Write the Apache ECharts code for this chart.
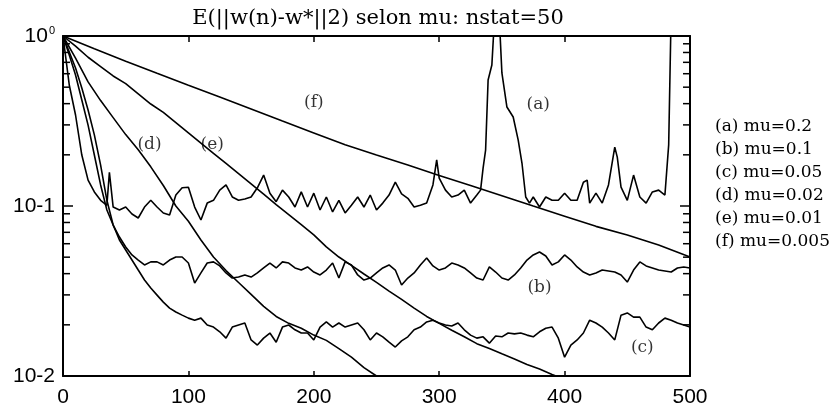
<!DOCTYPE html>
<html><head><meta charset="utf-8">
<script src="https://cdn.jsdelivr.net/npm/echarts@6/dist/echarts.min.js"></script>
<style>html,body{margin:0;padding:0;background:#fff}#c{width:836px;height:410px}</style>
</head><body><div id="c"></div>
<script>
const titleText = 'E(||w(n)-w*||2) selon mu: nstat=50';
const seriesNames = ['(a) mu=0.2', '(b) mu=0.1', '(c) mu=0.05', '(d) mu=0.02', '(e) mu=0.01', '(f) mu=0.005'];

const nGrid = [0,5,10,15,20,25,30,35,40,45,50,55,60,65,70,75,80,85,90,95,100,105,110,115,120,125,130,135,140,145,150,155,160,165,170,175,180,185,190,195,200,205,210,215,220,225,230,235,240,245,250,255,260,265,270,275,280,285,290,295,300,305,310,315,320,325,330,335,340,345,350,355,360,365,370,375,380,385,390,395,400,405,410,415,420,425,430,435,440,445,450,455,460,465,470,475,480,485,490,495,500];

const aN = [0,5,10,15,20,25,30,35,37,40,45,50,55,60,65,70,75,80,85,90,95,100,105,110,115,120,125,130,135,140,145,150,155,160,165,170,175,180,185,190,195,200,205,210,215,220,225,230,235,240,245,250,255,260,265,270,275,280,285,290,295,298,300,305,310,315,320,325,330,333,335,337,339,342,344,346,348,350,354,359,363,366,369,372,375,380,385,390,395,400,405,410,415,418,420,425,430,435,440,442,445,450,455,460,465,470,475,480,483,485,490,495,500];
const aV = [1.0,0.515,0.343,0.1995,0.142,0.121,0.108,0.101,0.158,0.0986,0.0947,0.0986,0.0897,0.085,0.0986,0.108,0.0986,0.091,0.0885,0.116,0.128,0.129,0.0986,0.0827,0.104,0.108,0.124,0.133,0.113,0.108,0.110,0.113,0.128,0.152,0.119,0.106,0.124,0.113,0.0986,0.121,0.0986,0.119,0.0947,0.113,0.0922,0.108,0.091,0.101,0.113,0.0986,0.116,0.0947,0.104,0.116,0.138,0.118,0.111,0.0986,0.101,0.104,0.133,0.187,0.146,0.124,0.113,0.116,0.124,0.104,0.116,0.124,0.167,0.213,0.551,0.675,1.24,1.42,1.24,0.606,0.382,0.334,0.244,0.179,0.113,0.104,0.113,0.0986,0.113,0.108,0.108,0.119,0.108,0.108,0.138,0.142,0.104,0.119,0.104,0.133,0.222,0.194,0.129,0.108,0.152,0.113,0.104,0.121,0.124,0.116,0.229,1.42,1.8,1.9,2.0];

const bV = [1.0,0.773,0.590,0.420,0.299,0.1995,0.133,0.0947,0.0773,0.0657,
0.0574,0.0515,0.0481,0.045,0.0469,0.0469,0.045,0.0481,0.0501,0.0501,
0.0462,0.0352,0.0404,0.0462,0.0469,0.0444,0.0404,0.0377,0.0382,0.0393,
0.0382,0.0404,0.0432,0.0462,0.0432,0.0469,0.0462,0.0432,0.042,0.0438,
0.0409,0.0393,0.042,0.0462,0.0377,0.0469,0.045,0.0393,0.0367,0.0377,
0.0404,0.0432,0.045,0.042,0.0343,0.0377,0.0404,0.045,0.0494,0.0444,
0.042,0.0432,0.0462,0.045,0.0432,0.0404,0.0377,0.0367,0.0438,0.0409,
0.0377,0.0367,0.0393,0.0432,0.0481,0.0515,0.0536,0.0508,0.045,0.0469,
0.0515,0.0481,0.0438,0.0409,0.0393,0.0404,0.042,0.0415,0.0409,0.0393,
0.0357,0.042,0.0469,0.0444,0.0432,0.042,0.0415,0.0409,0.0432,0.0438,
0.0432];

const cV = [1.0,0.805,0.648,0.494,0.367,0.262,0.174,0.108,0.0773,0.0631,
0.0551,0.0481,0.042,0.0367,0.0329,0.0299,0.0272,0.0251,0.0238,0.0228,
0.0219,0.0213,0.0219,0.01995,0.0194,0.0182,0.0167,0.0194,0.01995,0.0205,
0.0163,0.0152,0.0167,0.0179,0.0158,0.0194,0.01995,0.0187,0.0179,0.0179,
0.0163,0.0194,0.0208,0.0194,0.0205,0.0194,0.01995,0.0205,0.0187,0.0163,
0.0179,0.017,0.0158,0.0148,0.0161,0.017,0.0187,0.0194,0.0208,0.0213,
0.0205,0.01995,0.0197,0.0205,0.0187,0.0174,0.0167,0.017,0.0156,0.0172,
0.017,0.0179,0.0177,0.0179,0.0174,0.017,0.0182,0.0191,0.0194,0.0167,
0.0129,0.0152,0.0163,0.0179,0.0213,0.0205,0.0194,0.0179,0.0163,0.0228,
0.0235,0.0222,0.0222,0.0194,0.0187,0.0205,0.0219,0.0213,0.0205,0.01995,
0.0194];

const dN = [0,10,20,30,40,50,60,70,80,90,100,110,120,130,140,150,160,170,180,190,200,210,220,230,240,250,260,270];
const dV = [1.0,0.741,0.537,0.417,0.331,0.263,0.214,0.170,0.132,0.1,0.0813,0.0631,0.0501,0.0417,0.0355,0.0302,0.0257,0.0224,0.0204,0.0191,0.0174,0.0162,0.0145,0.0129,0.0112,0.01,0.00912,0.00832];

const eN = [0,10,20,30,40,50,60,70,80,90,100,110,120,130,140,150,160,170,180,190,200,210,220,230,240,250,260,270,280,290,300,310,320,330,340,350,360,370,380,390,400,410,420];
const eV = [1.0,0.871,0.750,0.661,0.582,0.525,0.457,0.398,0.355,0.309,0.269,0.234,0.204,0.178,0.155,0.135,0.1175,0.102,0.0891,0.0776,0.0676,0.0575,0.0501,0.0447,0.0398,0.0355,0.0316,0.0282,0.0251,0.0224,0.0204,0.0186,0.0170,0.0155,0.0145,0.0135,0.0126,0.0117,0.0110,0.0102,0.00955,0.00891,0.00851];

const fN = [0,25,50,75,100,125,150,175,200,225,250,275,300,325,350,375,400,425,450,475,500];
const fV = [1.0,0.841,0.711,0.603,0.513,0.437,0.372,0.316,0.269,0.229,0.1995,0.174,0.151,0.132,0.115,0.1,0.0871,0.0759,0.0676,0.0589,0.0501];

const curveLabels = ['(a)', '(b)', '(c)', '(d)', '(e)', '(f)'];
const curveLabelN = [379, 380, 462, 69, 119, 200];
const curveLabelV = [0.393, 0.033, 0.0146, 0.229, 0.229, 0.404];

const yTickVals = [1, 0.1, 0.01];
const yTickMain = ['10', '10-1', '10-2'];
const yTickSup = ['0', '', ''];
const yMinorTicks = [0.02,0.03,0.04,0.05,0.06,0.07,0.08,0.09,0.2,0.3,0.4,0.5,0.6,0.7,0.8,0.9];
const xMin = 0, xMax = 500;

const chart = echarts.init(document.getElementById('c'), null, {renderer: 'canvas'});
const pairs = (ns, vs) => ns.map((n, i) => [n, vs[i]]);
const lineStyle = {color: '#000', width: 1.6};
const mk = (name, data) => ({
  name, type: 'line', data, symbol: 'none', showSymbol: false, lineStyle,
  itemStyle: {color: '#000'}, clip: true, silent: true, animation: false
});

const axisLine = {show: true, lineStyle: {color: '#000', width: 2}};
const tickFont = {fontFamily: '"Liberation Sans", Arial, sans-serif', fontSize: 21, color: '#000'};

// minor log ticks on both vertical frame sides; x taken from the grid rect, y from the log scale
const minorTickSeries = (side) => ({
  name: 'minor y ticks ' + side, type: 'custom', silent: true, clip: false, z: 10,
  data: yMinorTicks.map(v => [xMax / 2, v]),
  renderItem: (params, api) => {
    const cs = params.coordSys;
    const y = api.coord([api.value(0), api.value(1)])[1];
    const x0 = side === 'left' ? cs.x : cs.x + cs.width;
    const x1 = side === 'left' ? x0 + 7 : x0 - 7;
    return {type: 'line', shape: {x1: x0, y1: y, x2: x1, y2: y},
            style: {stroke: '#000', lineWidth: 1.5}};
  }
});

const option = {
  animation: false,
  backgroundColor: '#fff',
  grid: {left: 63, right: 146, top: 36, bottom: 34, containLabel: false},
  graphic: [{
    type: 'text', x: 378, y: 19,
    style: {text: titleText, textAlign: 'center', textVerticalAlign: 'middle',
            font: '21px "DejaVu Serif", serif', fill: '#000'}
  }],
  legend: {
    data: seriesNames, orient: 'vertical', left: 704, top: 113,
    itemWidth: 0, itemHeight: 0, itemGap: 6, selectedMode: false,
    textStyle: {fontFamily: '"DejaVu Serif", serif', fontSize: 17, lineHeight: 17, color: '#000'}
  },
  xAxis: [{
    type: 'value', min: xMin, max: xMax, interval: 100, position: 'bottom',
    axisLine, splitLine: {show: false},
    axisTick: {show: true, inside: true, length: 5, lineStyle: {color: '#000', width: 1.5}},
    axisLabel: Object.assign({margin: 11}, tickFont)
  }, {
    type: 'value', min: xMin, max: xMax, interval: 100, position: 'top',
    axisLine, splitLine: {show: false},
    axisTick: {show: true, inside: true, length: 6, lineStyle: {color: '#000', width: 1.5}},
    axisLabel: {show: false}
  }],
  yAxis: [{
    type: 'log', logBase: 10, min: 0.01, max: 1, position: 'left',
    axisLine: {show: true, onZero: false, lineStyle: {color: '#000', width: 2}},
    splitLine: {show: false}, minorTick: {show: false},
    axisTick: {show: true, inside: true, length: 10, lineStyle: {color: '#000', width: 1.5}},
    axisLabel: {
      margin: 8,
      formatter: (v) => {
        const i = yTickVals.findIndex(t => Math.abs(Math.log10(t) - Math.log10(v)) < 1e-6);
        if (i < 0) return '';
        return '{m|' + yTickMain[i] + '}' + (yTickSup[i] ? '{s|' + yTickSup[i] + '}' : '');
      },
      rich: {
        m: tickFont,
        s: {fontFamily: '"Liberation Sans", Arial, sans-serif', fontSize: 11, color: '#000', verticalAlign: 'top', padding: [0, 0, 6, 1]}
      }
    }
  }, {
    type: 'log', logBase: 10, min: 0.01, max: 1, position: 'right',
    axisLine: {show: true, onZero: false, lineStyle: {color: '#000', width: 2}},
    splitLine: {show: false},
    axisTick: {show: true, inside: true, length: 10, lineStyle: {color: '#000', width: 1.5}},
    axisLabel: {show: false}
  }],
  tooltip: {show: false},
  series: [
    mk(seriesNames[0], pairs(aN, aV)),
    mk(seriesNames[1], pairs(nGrid, bV)),
    mk(seriesNames[2], pairs(nGrid, cV)),
    mk(seriesNames[3], pairs(dN, dV)),
    mk(seriesNames[4], pairs(eN, eV)),
    mk(seriesNames[5], pairs(fN, fV)),
    {
      name: 'curve labels', type: 'scatter', symbolSize: 0, silent: true, clip: false,
      data: curveLabels.map((t, i) => [curveLabelN[i], curveLabelV[i], t]),
      label: {show: true, position: 'inside', formatter: p => p.data[2],
              fontFamily: '"DejaVu Serif", serif', fontSize: 17, color: '#000'}
    },
    minorTickSeries('left'),
    minorTickSeries('right')
  ]
};
chart.setOption(option);
</script>
</body></html>
